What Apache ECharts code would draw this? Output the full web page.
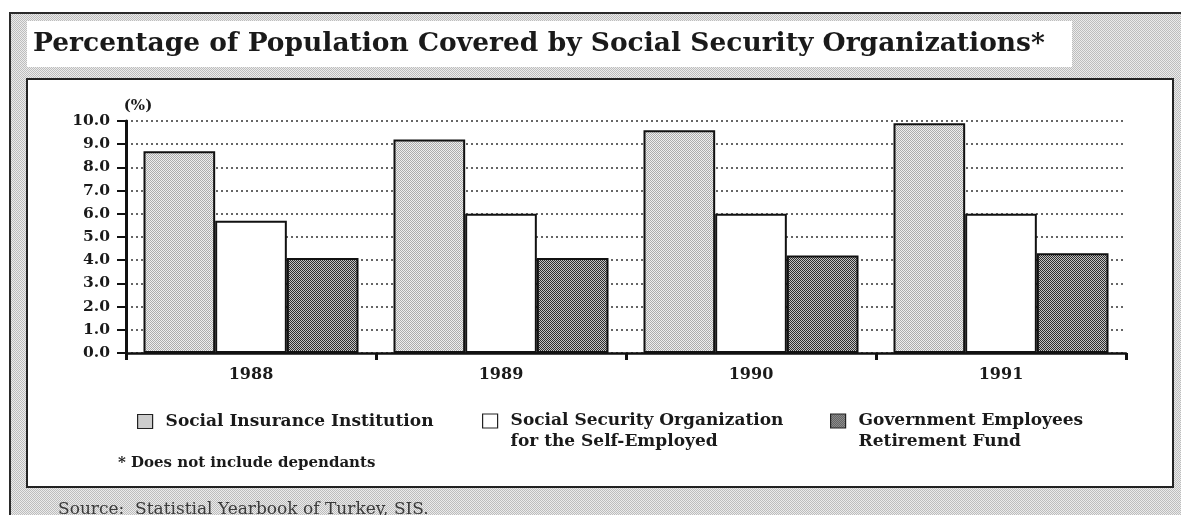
<!DOCTYPE html>
<html>
<head>
<meta charset="utf-8">
<script src="https://cdn.jsdelivr.net/npm/echarts@6/dist/echarts.min.js"></script>
<style>
  html, body { margin: 0; padding: 0; background: #ffffff; }
  #chart { width: 1181px; height: 515px; }
</style>
</head>
<body>
<div id="chart"></div>
<script>
// Share of population covered, percent
const years = ['1988', '1989', '1990', '1991'];
const seriesNames = [
  'Social Insurance Institution',
  'Social Security Organization for the Self-Employed',
  'Government Employees Retirement Fund'
];
const legendLines = [
  ['Social Insurance Institution'],
  ['Social Security Organization', 'for the Self-Employed'],
  ['Government Employees', 'Retirement Fund']
];
const socialInsurance = [8.7, 9.2, 9.6, 9.9];
const selfEmployed = [5.7, 6.0, 6.0, 6.0];
const governmentEmployees = [4.1, 4.1, 4.2, 4.3];
const yMin = 0, yMax = 10, yStep = 1;

const titleText = 'Percentage of Population Covered by Social Security Organizations*';
const footnoteText = '* Does not include dependants';
const sourceText = 'Source:  Statistial Yearbook of Turkey, SIS.';
const unitText = '(%)';

// Small checkerboard halftone used as a fill pattern
function halftone(dark, light) {
  const c = document.createElement('canvas');
  c.width = 2; c.height = 2;
  const g = c.getContext('2d');
  g.fillStyle = light; g.fillRect(0, 0, 2, 2);
  g.fillStyle = dark; g.fillRect(0, 0, 1, 1); g.fillRect(1, 1, 1, 1);
  return { image: c, repeat: 'repeat' };
}
const paperTone = halftone('#bdbdbd', '#ebebeb');
const lightTone = halftone('#acacac', '#eeeeee');
const darkTone = halftone('#2e2e2e', '#c4c4c4');
const whiteFill = '#ffffff';

const serif = '"DejaVu Serif", "Liberation Serif", serif';
const ink = '#1a1a1a';

// Square swatch on top of a taller box so the first text line sits beside it
const tallSwatch = 'path://M0,0H15V14H0Z M0,34';

function legendFor(index, left, twoLine) {
  return {
    data: [seriesNames[index]],
    left: left,
    top: twoLine ? 410 : 411,
    orient: 'horizontal',
    padding: 0,
    selectedMode: false,
    icon: twoLine ? tallSwatch : 'rect',
    itemWidth: 15,
    itemHeight: twoLine ? 34 : 14,
    itemStyle: { borderColor: '#222', borderWidth: 1.2 },
    formatter: () => legendLines[index].join('\n'),
    textStyle: {
      fontFamily: serif, fontWeight: 'bold', fontSize: 17, color: ink,
      lineHeight: 21, padding: [0, 0, 0, 8]
    }
  };
}

const chart = echarts.init(document.getElementById('chart'));
chart.setOption({
  animation: false,
  backgroundColor: '#ffffff',
  graphic: [
    { type: 'rect', z: -10, shape: { x: 10, y: 13, width: 1180, height: 510 },
      style: { fill: paperTone, stroke: '#2a2a2a', lineWidth: 2 } },
    { type: 'rect', z: -9, shape: { x: 27, y: 21, width: 1045, height: 46 },
      style: { fill: '#ffffff' } },
    { type: 'rect', z: -9, shape: { x: 27, y: 79, width: 1146, height: 408 },
      style: { fill: '#ffffff', stroke: '#222222', lineWidth: 2 } }
  ],
  title: [
    { text: titleText, left: 33, top: 31, padding: 0,
      textStyle: { fontFamily: serif, fontWeight: 'bold', fontSize: 26.5, color: ink } },
    { text: footnoteText, left: 118, top: 456, padding: 0,
      textStyle: { fontFamily: serif, fontWeight: 'bold', fontSize: 15, color: ink } },
    { text: sourceText, left: 58, top: 501, padding: 0,
      textStyle: { fontFamily: serif, fontWeight: 'normal', fontSize: 17, color: '#3a3a3a' } }
  ],
  legend: [
    legendFor(0, 137, false),
    legendFor(1, 482, true),
    legendFor(2, 830, true)
  ],
  grid: { left: 126, top: 121, width: 1000, height: 232, containLabel: false, outerBoundsMode: 'none' },
  xAxis: {
    type: 'category',
    data: years,
    boundaryGap: true,
    axisLine: { show: true, lineStyle: { color: '#111', width: 2.5 } },
    axisTick: { show: true, length: 7, inside: false, lineStyle: { color: '#111', width: 3 } },
    axisLabel: { margin: 14, fontFamily: serif, fontWeight: 'bold', fontSize: 16, color: ink },
    splitLine: { show: false }
  },
  yAxis: {
    type: 'value',
    min: yMin, max: yMax, interval: yStep,
    name: unitText,
    nameLocation: 'end',
    nameGap: 7,
    nameTextStyle: { fontFamily: serif, fontWeight: 'bold', fontSize: 15, color: ink,
      align: 'center', padding: [0, 0, 0, 24] },
    axisLine: { show: true, lineStyle: { color: '#111', width: 3 } },
    axisTick: { show: true, length: 9, inside: false, lineStyle: { color: '#111', width: 2 } },
    axisLabel: { margin: 16, fontFamily: serif, fontWeight: 'bold', fontSize: 15.5, color: ink,
      formatter: v => v.toFixed(1) },
    splitLine: { show: true, lineStyle: { color: '#333', width: 1.5, type: [2, 3] } }
  },
  series: [
    { name: seriesNames[0], type: 'bar', data: socialInsurance,
      barGap: '0%', barCategoryGap: '14%',
      itemStyle: { color: lightTone, borderColor: '#111', borderWidth: 2 } },
    { name: seriesNames[1], type: 'bar', data: selfEmployed,
      barGap: '0%', barCategoryGap: '14%',
      itemStyle: { color: whiteFill, borderColor: '#111', borderWidth: 2 } },
    { name: seriesNames[2], type: 'bar', data: governmentEmployees,
      barGap: '0%', barCategoryGap: '14%',
      itemStyle: { color: darkTone, borderColor: '#111', borderWidth: 2 } }
  ]
});
</script>
</body>
</html>
